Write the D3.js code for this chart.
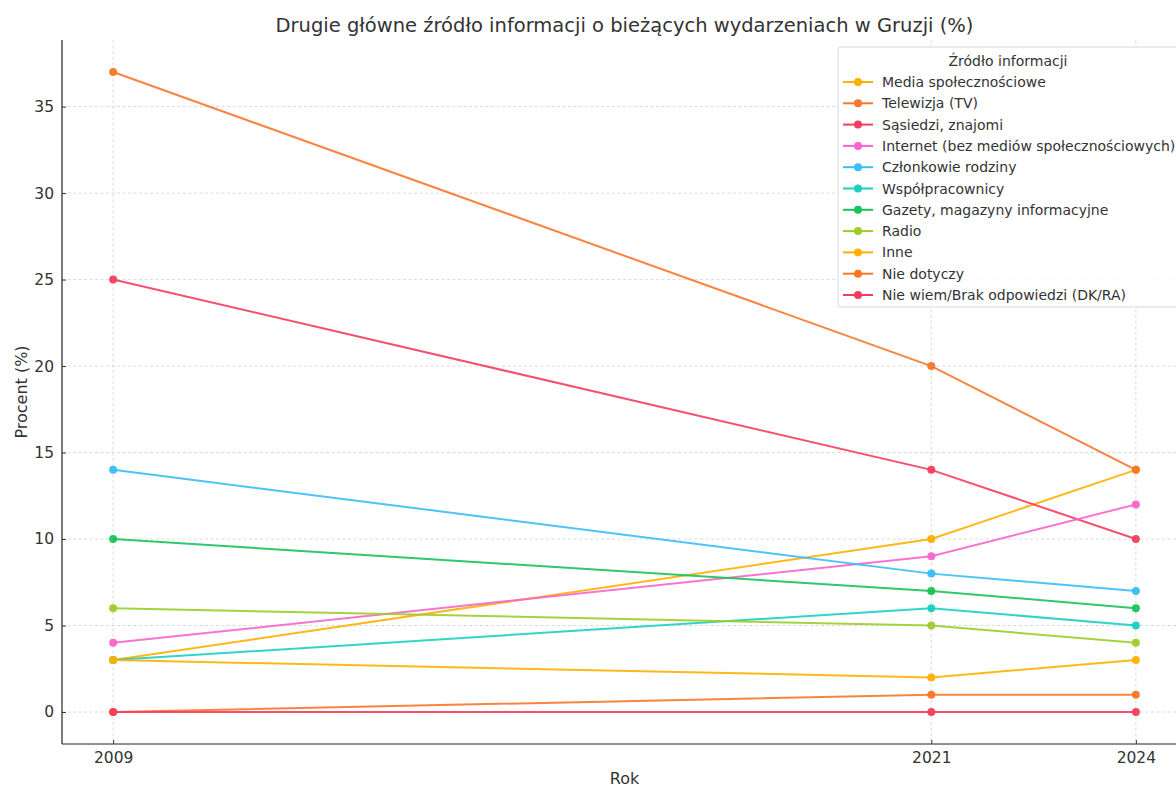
<!DOCTYPE html>
<html>
<head>
<meta charset="utf-8">
<script src="https://cdn.jsdelivr.net/npm/d3@7"></script>
<style>
  body { margin: 0; background: #fff; }
  svg { font-family: "DejaVu Sans", sans-serif; display: block; }
</style>
</head>
<body>
<div id="viz"></div>
<script>
var years = [2009, 2021, 2024];

var series = [
  'Media społecznościowe',
  'Telewizja (TV)',
  'Sąsiedzi, znajomi',
  'Internet (bez mediów społecznościowych)',
  'Członkowie rodziny',
  'Współpracownicy',
  'Gazety, magazyny informacyjne',
  'Radio',
  'Inne',
  'Nie dotyczy',
  'Nie wiem/Brak odpowiedzi (DK/RA)'
];

var mediaSpol = [3, 10, 14],
    telewizja = [37, 20, 14],
    sasiedzi = [25, 14, 10],
    internet = [4, 9, 12],
    rodzina = [14, 8, 7],
    wspolpracownicy = [3, 6, 5],
    gazety = [10, 7, 6],
    radio = [6, 5, 4],
    inne = [3, 2, 3],
    nieDotyczy = [0, 1, 1],
    nieWiem = [0, 0, 0];

var values = [mediaSpol, telewizja, sasiedzi, internet, rodzina,
              wspolpracownicy, gazety, radio, inne, nieDotyczy, nieWiem];

var palette = ['#ffb000', '#f8772a', '#f43d5e', '#f864cb',
               '#38bdf8', '#1ccfc1', '#19c25a', '#9ccd2a'];

var yTicks = [0, 5, 10, 15, 20, 25, 30, 35];

var width = 1176,
    height = 787,
    plotLeft = 62,
    plotRight = 1187,
    plotTop = 40,
    plotBottom = 744;

var xScale = d3.scaleLinear()
  .domain([2008.25, 2024.75])
  .range([plotLeft, plotRight]);

var yScale = d3.scaleLinear()
  .domain([-1.85, 38.85])
  .range([plotBottom, plotTop]);

var svg = d3.select('#viz').append('svg')
  .attr('width', width)
  .attr('height', height);

// grid
svg.append('g').selectAll('line').data(yTicks)
  .enter().append('line')
    .attr('x1', plotLeft).attr('x2', plotRight)
    .attr('y1', function(d) { return yScale(d); })
    .attr('y2', function(d) { return yScale(d); })
    .attr('stroke', '#d0d0d0')
    .attr('stroke-width', 0.8)
    .attr('stroke-dasharray', '3,2.5');

svg.append('g').selectAll('line').data(years)
  .enter().append('line')
    .attr('x1', function(d) { return xScale(d); })
    .attr('x2', function(d) { return xScale(d); })
    .attr('y1', plotTop).attr('y2', plotBottom)
    .attr('stroke', '#d0d0d0')
    .attr('stroke-width', 0.8)
    .attr('stroke-dasharray', '3,2.5');

// axes
var xAxis = svg.append('g')
  .attr('transform', 'translate(0,' + plotBottom + ')')
  .call(d3.axisBottom(xScale).tickValues(years).tickFormat(d3.format('d'))
    .tickSizeInner(-4).tickSizeOuter(0).tickPadding(8));

var yAxis = svg.append('g')
  .attr('transform', 'translate(' + plotLeft + ',0)')
  .call(d3.axisLeft(yScale).tickValues(yTicks)
    .tickSizeInner(-4).tickSizeOuter(0).tickPadding(8));

[xAxis, yAxis].forEach(function(a) {
  a.select('.domain').attr('stroke', '#222').attr('stroke-width', 1.2);
  a.selectAll('.tick line').attr('stroke', '#333');
  a.selectAll('.tick text')
    .attr('fill', '#333')
    .style('font-size', '15.5px')
    .style('font-family', '"DejaVu Sans", sans-serif');
});
yAxis.select('.domain').attr('d', 'M0,' + plotTop + 'V' + plotBottom);
xAxis.select('.domain').attr('d', 'M' + plotLeft + ',0H' + plotRight);

// lines
var line = d3.line()
  .x(function(d, i) { return xScale(years[i]); })
  .y(function(d) { return yScale(d); });

var groups = svg.append('g').selectAll('g').data(values)
  .enter().append('g')
    .attr('fill', function(d, i) { return palette[i % palette.length]; })
    .attr('stroke', function(d, i) { return palette[i % palette.length]; });

groups.append('path')
  .attr('d', function(d) { return line(d); })
  .attr('fill', 'none')
  .attr('stroke-width', 2)
  .attr('stroke-opacity', 0.9);

groups.selectAll('circle').data(function(d) { return d; })
  .enter().append('circle')
    .attr('cx', function(d, i) { return xScale(years[i]); })
    .attr('cy', function(d) { return yScale(d); })
    .attr('r', 4)
    .attr('stroke', 'none')
    .attr('opacity', 0.95);

// title and labels
svg.append('text')
  .attr('x', (plotLeft + plotRight) / 2)
  .attr('y', 32)
  .attr('text-anchor', 'middle')
  .attr('fill', '#333')
  .style('font-size', '19.5px')
  .text('Drugie główne źródło informacji o bieżących wydarzeniach w Gruzji (%)');

svg.append('text')
  .attr('x', (plotLeft + plotRight) / 2)
  .attr('y', 784)
  .attr('text-anchor', 'middle')
  .attr('fill', '#333')
  .style('font-size', '16px')
  .text('Rok');

svg.append('text')
  .attr('transform', 'translate(27,' + ((plotTop + plotBottom) / 2) + ') rotate(-90)')
  .attr('text-anchor', 'middle')
  .attr('fill', '#333')
  .style('font-size', '16px')
  .text('Procent (%)');

// legend
var legend = svg.append('g').attr('transform', 'translate(838,47)');

legend.append('rect')
  .attr('x', 0).attr('y', 0)
  .attr('width', 350).attr('height', 260)
  .attr('rx', 3)
  .attr('fill', 'white')
  .attr('fill-opacity', 0.85)
  .attr('stroke', '#d8d8d8');

legend.append('text')
  .attr('x', 170).attr('y', 19)
  .attr('text-anchor', 'middle')
  .attr('fill', '#333')
  .style('font-size', '14px')
  .text('Źródło informacji');

var items = legend.selectAll('g.item').data(series)
  .enter().append('g')
    .attr('class', 'item')
    .attr('transform', function(d, i) { return 'translate(0,' + (35 + i * 21.3) + ')'; });

items.append('line')
  .attr('x1', 5).attr('x2', 35)
  .attr('stroke', function(d, i) { return palette[i % palette.length]; })
  .attr('stroke-width', 2);

items.append('circle')
  .attr('cx', 20).attr('r', 4)
  .attr('fill', function(d, i) { return palette[i % palette.length]; });

items.append('text')
  .attr('x', 44).attr('y', 5)
  .attr('fill', '#333')
  .style('font-size', '14px')
  .text(function(d) { return d; });
</script>
</body>
</html>
